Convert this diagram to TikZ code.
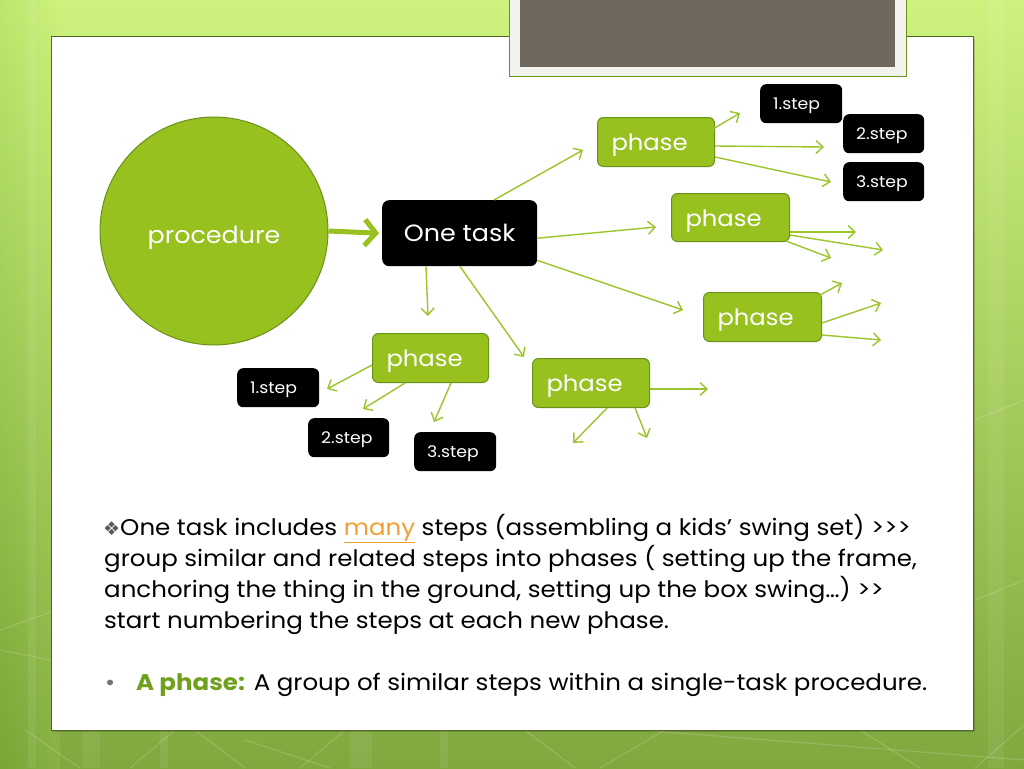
\documentclass[tikz,border=0pt]{standalone}
\usepackage{fontspec}
\setmainfont{Poppins}[FakeStretch=1.08, Ligatures=TeXOff]
\newfontfamily\dejavu{DejaVu Sans}
\usetikzlibrary{arrows.meta}
\definecolor{gfill}{RGB}{150,193,31}
\definecolor{gdark}{RGB}{106,146,24}
\definecolor{garrow}{RGB}{155,197,42}
\definecolor{taupe}{RGB}{111,104,92}
\definecolor{bgtop}{RGB}{205,242,125}
\definecolor{bgbot}{RGB}{128,168,62}
\definecolor{manyc}{RGB}{240,160,50}
\definecolor{phasec}{RGB}{112,160,30}
\definecolor{panelline}{RGB}{80,105,40}
\tikzset{
  phasebox/.style={draw=gdark, line width=1pt, fill=gfill, rounded corners=6pt, text=white, font=\fontsize{22.5}{22.5}\selectfont, anchor=north west, inner ysep=0pt, inner xsep=14pt, text height=21pt, text depth=4pt, align=left},
  stepbox/.style={fill=black, rounded corners=6pt, text=white, font=\fontsize{16}{16}\selectfont, anchor=north west, inner ysep=0pt, inner xsep=13pt, minimum height=39pt, text height=15pt, text depth=4pt, align=left},
  conn/.style={draw=garrow, line width=1.4pt, -{Straight Barb[length=7pt,width=13pt]}},
  bodytext/.style={anchor=base west, inner sep=0pt, font=\fontsize{22.7}{22.7}\selectfont},
  bgline/.style={draw=white, opacity=0.18, line width=1pt},
  bgstripe/.style={fill=white, opacity=0.07}
}
\begin{document}
\begin{tikzpicture}[x=1pt,y=-1pt]
\useasboundingbox (0,0) rectangle (1024,768);
% background
\shade[top color=bgtop, bottom color=bgbot] (0,0) rectangle (1024,768);
\shade[left color=green!40!lime!60!black, right color=bgtop, opacity=0.12] (0,0) rectangle (60,768);
\fill[bgstripe] (28,0) rectangle (36,768);
\fill[bgstripe] (82,730) rectangle (100,768);
\fill[bgstripe] (160,730) rectangle (168,768);
\fill[bgstripe] (350,730) rectangle (372,768);
\fill[bgstripe] (440,730) rectangle (448,768);
\fill[bgstripe] (988,0) rectangle (1004,768);
\draw[bgline] (25,730) -- (80,768);
\draw[bgline] (130,768) -- (175,730);
\draw[bgline] (195,730) -- (245,768);
\draw[bgline] (245,740) -- (330,768);
\draw[bgline] (300,768) -- (345,730);
\draw[bgline] (525,730) -- (575,768);
\draw[bgline] (600,768) -- (665,730);
\draw[bgline] (640,730) -- (1024,760);
\draw[bgline] (860,730) -- (920,768);
\draw[bgline] (975,768) -- (1024,725);
\draw[bgline] (975,420) -- (1024,400);
\draw[bgline] (975,600) -- (1024,580);
\draw[bgline] (0,630) -- (51,612);
\draw[bgline] (0,650) -- (51,660);
% panel
\fill[black, opacity=0.18] (53,39) rectangle (975,732);
\draw[draw=panelline, line width=1pt, fill=white] (51,37) rectangle (973,730);
% top tab
\draw[draw=gdark, line width=1pt, fill={rgb,255:red,242;green,243;blue,238}] (509,-5) rectangle (906,76);
\fill[taupe] (520,-5) rectangle (895,67);
% circle
\node[circle, draw=gdark, line width=1pt, fill=gfill, minimum size=228pt, inner sep=0pt, text=white, font=\fontsize{23.5}{23.5}\selectfont, text height=28pt, text depth=4pt] (proc) at (214,231) {procedure};
% task
\node[fill=black, rounded corners=7pt, text=white, font=\fontsize{23.5}{23.5}\selectfont, anchor=north west, minimum width=155pt, minimum height=66pt, inner sep=0pt] (task) at (382,200) {One task};
% phases
\node[phasebox, text width=89pt, minimum height=49pt] (p1) at (597,117) {phase};
\node[phasebox, text width=90pt, minimum height=48pt] (p2) at (671,193) {phase};
\node[phasebox, text width=90pt, minimum height=49pt] (p3) at (703,292) {phase};
\node[phasebox, text width=88pt, minimum height=49pt] (p4) at (372,333) {phase};
\node[phasebox, text width=89pt, minimum height=49pt] (p5) at (532,358) {phase};
% steps
\node[stepbox, text width=56pt] (s11) at (760,84) {1.step};
\node[stepbox, text width=55pt] (s12) at (843,114) {2.step};
\node[stepbox, text width=55pt] (s13) at (843,162) {3.step};
\node[stepbox, text width=56pt] (s41) at (237,368) {1.step};
\node[stepbox, text width=55pt] (s42) at (308,418) {2.step};
\node[stepbox, text width=56pt] (s43) at (414,432) {3.step};
% thick arrow
\draw[draw=gfill, line width=5pt, -{Straight Barb[length=11pt,width=26pt,line width=5pt]}] (proc.east) -- ([xshift=-3pt]task.west);
% free ends
\coordinate (e11) at (740,113);
\coordinate (e12) at (824,147);
\coordinate (e13) at (831,182);
\coordinate (e21) at (856,232);
\coordinate (e22) at (883,250);
\coordinate (e23) at (831,258);
\coordinate (e31) at (842,283);
\coordinate (e32) at (881,303);
\coordinate (e33) at (881,340);
\coordinate (e41) at (327,389);
\coordinate (e42) at (363,409);
\coordinate (e43) at (434,422);
\coordinate (e51) at (708,389);
\coordinate (e52) at (573,443);
\coordinate (e53) at (647,438);
\coordinate (t1) at (583,150);
\coordinate (t2) at (656,227);
\coordinate (t3) at (683,310);
\coordinate (t4) at (428,316);
\coordinate (t5) at (524,357);
% task connectors
\draw[conn] ([xshift=112pt]task.north west) -- (t1);
\draw[conn] ([yshift=-5pt]task.east) -- (t2);
\draw[conn] ([yshift=6pt]task.south east) -- (t3);
\draw[conn] ([xshift=44pt]task.south west) -- (t4);
\draw[conn] ([xshift=78pt]task.south west) -- (t5);
% phase connectors
\draw[conn] ([xshift=-2pt,yshift=-12pt]p1.north east) -- (e11);
\draw[conn] ([yshift=-29pt]p1.north east) -- (e12);
\draw[conn] ([yshift=-40pt]p1.north east) -- (e13);
\draw[conn] ([yshift=-39pt]p2.north east) -- (e21);
\draw[conn] ([yshift=-42pt]p2.north east) -- (e22);
\draw[conn] ([xshift=-4pt,yshift=1pt]p2.south east) -- (e23);
\draw[conn] ([xshift=-2pt,yshift=-3pt]p3.north east) -- (e31);
\draw[conn] ([yshift=-31pt]p3.north east) -- (e32);
\draw[conn] ([yshift=-43pt]p3.north east) -- (e33);
\draw[conn] ([yshift=-32pt]p4.north west) -- (e41);
\draw[conn] ([xshift=33pt]p4.south west) -- (e42);
\draw[conn] ([xshift=79pt]p4.south west) -- (e43);
\draw[conn] ([yshift=-31pt]p5.north east) -- (e51);
\draw[conn] ([xshift=75pt]p5.south west) -- (e52);
\draw[conn] ([xshift=103pt]p5.south west) -- (e53);
% body text
\node[bodytext] (l1) at (103,535) {{\dejavu\fontsize{19}{19}\selectfont\color{black!65}❖}One task includes {\color{manyc}\underline{many}} steps (assembling a kids’ swing set) >>>};
\node[bodytext] (l2) at (104,566) {group similar and related steps into phases ( setting up the frame,};
\node[bodytext] (l3) at (104,597) {anchoring the thing in the ground, setting up the box swing…) >>};
\node[bodytext] (l4) at (104,628) {start numbering the steps at each new phase.};
\node[bodytext, text=black!55] (bul) at (105,690) {\textbullet};
\node[bodytext] (l5) at (136,690) {{\color{phasec}\bfseries A phase:} A group of similar steps within a single-task procedure.};
\end{tikzpicture}
\end{document}
